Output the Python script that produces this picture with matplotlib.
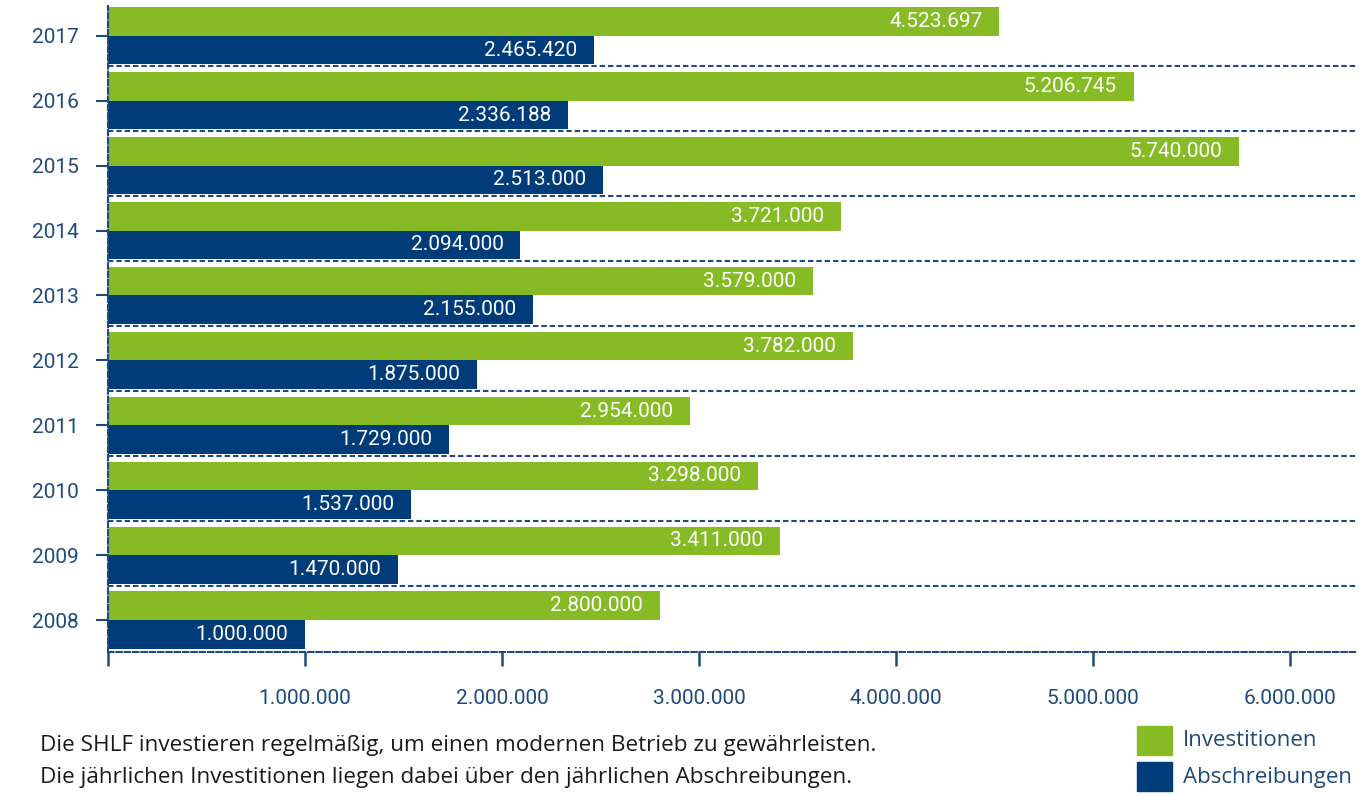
import matplotlib.pyplot as plt
import matplotlib.patches as mpatches

# Daten (Werte in Euro)
years = [2008, 2009, 2010, 2011, 2012, 2013, 2014, 2015, 2016, 2017]
investitionen = [2800000, 3411000, 3298000, 2954000, 3782000, 3579000, 3721000, 5740000, 5206745, 4523697]
abschreibungen = [1000000, 1470000, 1537000, 1729000, 1875000, 2155000, 2094000, 2513000, 2336188, 2465420]
x_ticks = [0, 1000000, 2000000, 3000000, 4000000, 5000000, 6000000]

GREEN = '#86bb25'
BLUE = '#003c79'
LINE = '#1d4a80'
TEXT_BLUE = '#1e4a7c'

plt.rcParams['font.family'] = ['Roboto', 'DejaVu Sans']


def fmt(v):
    return f"{v:,}".replace(",", ".")


fig = plt.figure(figsize=(13.7, 7.96), dpi=100)
ax = fig.add_axes([0.0788, 0.1803, 0.9117, 0.8122])

h = 0.44
pos = list(range(len(years)))
ax.barh(pos, investitionen, height=h, align='edge', color=GREEN, zorder=2)
ax.barh([p - h for p in pos], abschreibungen, height=h, align='edge', color=BLUE, zorder=2)

# Werte in den Balken
for p, v in zip(pos, investitionen):
    ax.annotate(fmt(v), (v, p + h / 2), xytext=(-12, 0), textcoords='offset points',
                ha='right', va='center', color='white', fontsize=15, zorder=3)
for p, v in zip(pos, abschreibungen):
    ax.annotate(fmt(v), (v, p - h / 2), xytext=(-12, 0), textcoords='offset points',
                ha='right', va='center', color='white', fontsize=15, zorder=3)

# gestrichelte Trennlinien zwischen den Jahren
dash = (0, (2.6, 1.4))
for p in pos[1:]:
    ax.axhline(p - 0.47, color=LINE, lw=1.5, linestyle=dash, zorder=1)

ax.set_xlim(0, 6340000)
ax.set_ylim(-0.5, 9.46)

for s in ['top', 'right']:
    ax.spines[s].set_visible(False)
for s in ['left', 'bottom']:
    ax.spines[s].set_color(LINE)
    ax.spines[s].set_linewidth(1.5)
    ax.spines[s].set_linestyle(dash)

ax.set_yticks(pos)
ax.set_yticklabels([str(y) for y in years])
ax.set_xticks(x_ticks)
ax.set_xticklabels([''] + [fmt(v) for v in x_ticks[1:]])
ax.tick_params(axis='y', length=9, width=1.5, color=LINE, labelcolor=TEXT_BLUE,
               labelsize=15, pad=12)
ax.tick_params(axis='x', length=10, width=1.8, color=LINE, labelcolor=TEXT_BLUE,
               labelsize=15, pad=16)

# Fußtext
foot = ['Open Sans', 'DejaVu Sans']
fig.text(40 / 1370, 1 - 745 / 796, 'Die SHLF investieren regelmäßig, um einen modernen Betrieb zu gewährleisten.',
         fontsize=16.2, color='#1a1a1a', va='center', family=foot)
fig.text(40 / 1370, 1 - 778 / 796, 'Die jährlichen Investitionen liegen dabei über den jährlichen Abschreibungen.',
         fontsize=16.2, color='#1a1a1a', va='center', family=foot)

# Legende
for yc, col, lab in [(741, GREEN, 'Investitionen'), (777, BLUE, 'Abschreibungen')]:
    fig.patches.append(mpatches.Rectangle((1137 / 1370, 1 - (yc + 14) / 796), 35 / 1370, 29 / 796,
                                          transform=fig.transFigure, color=col, figure=fig))
    fig.text(1183 / 1370, 1 - yc / 796, lab, fontsize=16, color=TEXT_BLUE, va='center', family=foot)

fig.savefig('out.png', dpi=100)
